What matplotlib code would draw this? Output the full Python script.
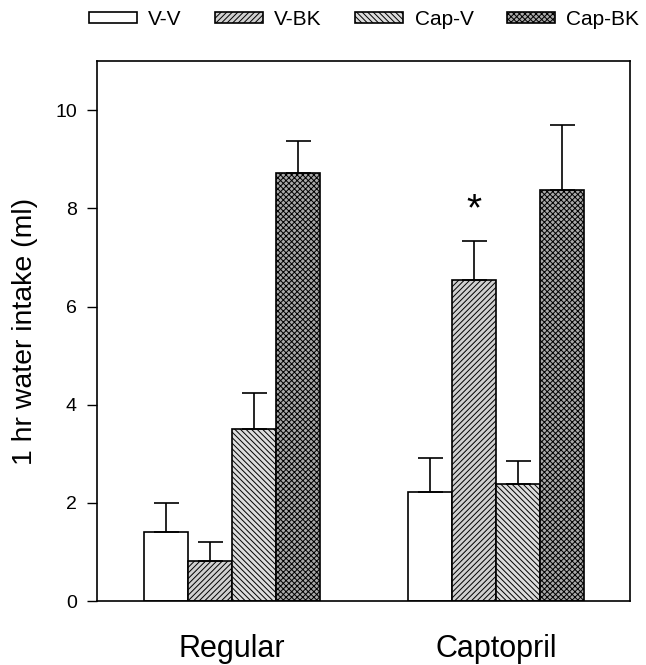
import numpy as np
import matplotlib
matplotlib.use("Agg")
import matplotlib.pyplot as plt

plt.rcParams['font.family'] = ['Liberation Sans', 'DejaVu Sans']
plt.rcParams['hatch.linewidth'] = 0.7

groups = ["Regular", "Captopril"]
series = ["V-V", "V-BK", "Cap-V", "Cap-BK"]
means = {
    "V-V":    [1.40, 2.22],
    "V-BK":   [0.82, 6.55],
    "Cap-V":  [3.50, 2.38],
    "Cap-BK": [8.72, 8.37],
}
errors = {
    "V-V":    [0.60, 0.70],
    "V-BK":   [0.38, 0.78],
    "Cap-V":  [0.75, 0.47],
    "Cap-BK": [0.65, 1.33],
}
yticks = [0, 2, 4, 6, 8, 10]

styles = {
    "V-V":    dict(facecolor="white", hatch=None),
    "V-BK":   dict(facecolor="#d0d0d0", hatch="//////"),
    "Cap-V":  dict(facecolor="#dcdcdc", hatch="\\\\\\\\\\\\"),
    "Cap-BK": dict(facecolor="#a8a8a8", hatch="xxxxxx"),
}

fig = plt.figure(figsize=(6.46, 6.65), dpi=100)
ax = fig.add_axes([0.150, 0.096, 0.825, 0.812])

x = np.arange(len(groups))
width = 0.167
for i, s in enumerate(series):
    pos = x + (i - 1.5) * width
    ax.bar(pos, means[s], width, yerr=[np.zeros(len(groups)), errors[s]],
           edgecolor="black", linewidth=1.2, label=s,
           error_kw=dict(ecolor="black", elinewidth=1.2, capsize=9, capthick=1.2),
           **styles[s])

# significance marker over Captopril V-BK
ax.text(x[1] - 0.5 * width, 7.6, "*", ha="center", va="bottom", fontsize=28)

ax.set_xlim(-0.511, 1.508)
ax.set_ylim(0, 11)
ax.set_yticks(yticks)
ax.tick_params(axis="y", direction="out", length=7, width=1, labelsize=14, pad=7.5)
ax.set_xticks(x)
ax.set_xticklabels(groups, fontsize=22)
ax.tick_params(axis="x", length=0, pad=24)
ax.set_ylabel("1 hr water intake (ml)", fontsize=20.5, labelpad=12)
for sp in ax.spines.values():
    sp.set_linewidth(1.2)

fig.legend(loc="upper right", bbox_to_anchor=(1.012, 1.007), ncol=4, frameon=False,
           fontsize=15, handlelength=2.3, handleheight=0.45, columnspacing=1.6,
           handletextpad=0.55, borderaxespad=0.3)

fig.savefig("out.png", dpi=100)
